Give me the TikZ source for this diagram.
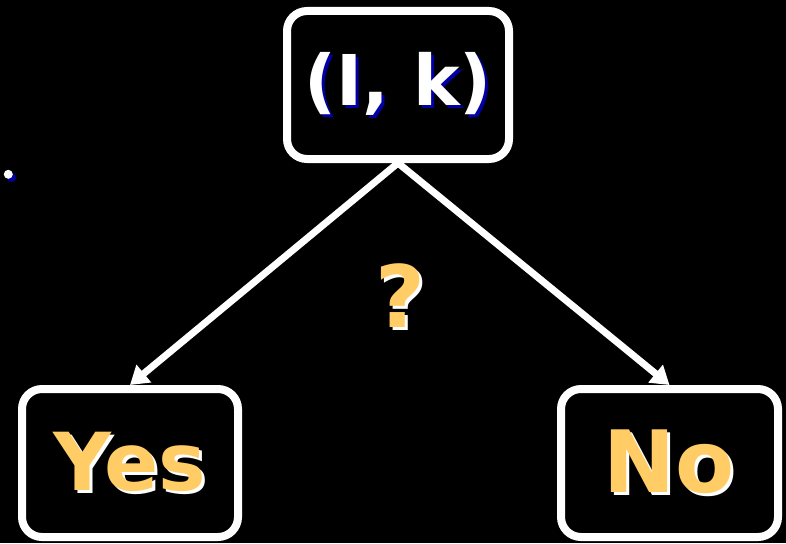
\documentclass[tikz,border=0pt]{standalone}
\usepackage{fontspec}
\setmainfont{DejaVu Sans}
\usetikzlibrary{arrows.meta}

\definecolor{navy}{RGB}{0,0,165}
\definecolor{gold}{RGB}{255,204,102}

% text with a small drop shadow behind it
\newcommand\shadowed[3]{\rlap{\hspace{3pt}\raisebox{-3pt}{\textcolor{#1}{#3}}}\textcolor{#2}{#3}}

\tikzset{
  answer/.style={draw=white, line width=8pt, rounded corners=20pt, fill=black,
    minimum height=148pt, inner sep=0pt, font=\bfseries},
  link/.style={draw=white, line width=7pt, -{Triangle[length=18pt,width=22pt]}}
}

\begin{document}
\begin{tikzpicture}[x=1pt,y=-1pt]
\fill[black] (0,0) rectangle (786,543);
\useasboundingbox (0,0) rectangle (786,543);

\node (inst) at (398,85) [answer, minimum width=222pt]
  {\fontsize{70}{80}\selectfont\raisebox{-6pt}{\shadowed{navy}{white}{(I, k)}}};
\node (yes) at (130,463) [answer, minimum width=216pt]
  {\fontsize{80}{90}\selectfont\shadowed{white}{gold}{Yes}};
\node (no) at (669.5,463) [answer, minimum width=217pt]
  {\fontsize{86}{90}\selectfont\shadowed{white}{gold}{No}};

\node (query) at (400,297) [font=\bfseries]
  {\fontsize{86}{90}\selectfont\shadowed{white}{gold}{?}};

\fill[navy] (11.5,177.5) circle (4.5);
\fill[white] (8.3,174.3) circle (4.5);

\draw[link] (inst.south) -- (yes.north);
\draw[link] (inst.south) -- (no.north);
\end{tikzpicture}
\end{document}
